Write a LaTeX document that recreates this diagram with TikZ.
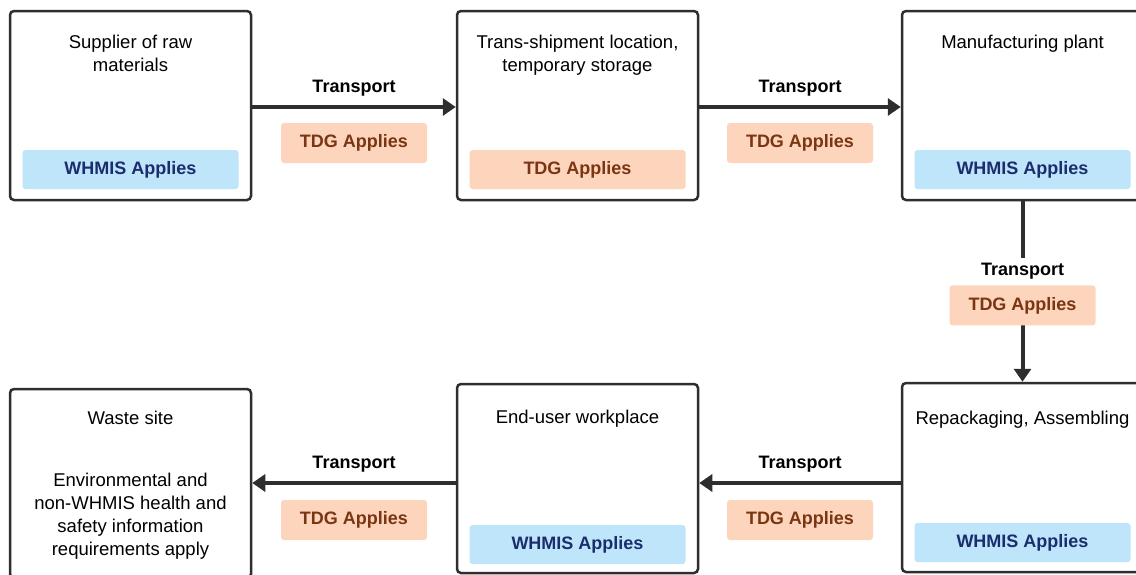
\documentclass[tikz,border=0pt]{standalone}
\usepackage{fontspec}
\setmainfont{Liberation Sans}
\usetikzlibrary{arrows.meta,positioning}
\definecolor{LineColor}{HTML}{2E2E2E}
\definecolor{WhmisColor}{HTML}{BEE5FA}
\definecolor{WhmisTextColor}{HTML}{1B2D6E}
\definecolor{TdgColor}{HTML}{FDD5BC}
\definecolor{TdgTextColor}{HTML}{7A3512}

\begin{document}
\begin{tikzpicture}[
    x=1pt, y=-1pt,
    font=\fontsize{18.5}{23}\selectfont,
    site/.style={draw=LineColor, line width=2.5pt, rounded corners=4pt, fill=white,
      minimum width=241pt, minimum height=189pt, inner sep=0pt},
    site title/.style={align=center, inner sep=0pt},
    whmis/.style={fill=WhmisColor, text=WhmisTextColor, rounded corners=3pt,
      font=\fontsize{18}{22}\selectfont\bfseries,
      minimum width=216pt, minimum height=39pt, inner sep=0pt},
    tdg/.style={fill=TdgColor, text=TdgTextColor, rounded corners=3pt,
      font=\fontsize{18}{22}\selectfont\bfseries,
      minimum width=146pt, minimum height=40pt, inner sep=0pt},
    transport/.style={fill=white, inner sep=2pt, font=\fontsize{18}{22}\selectfont\bfseries},
    flow/.style={draw=LineColor, line width=4pt, -{Triangle[length=13pt, width=17pt]}},
  ]
  \useasboundingbox (0,0) rectangle (1136,574);
  \clip (0,0) rectangle (1136,574);
  % ┌───────┐
  % │ Sites │
  % └───────┘
  \node[site] (supplier) at (130.5,105.5) {};
  \node[site] (transship) at (577.5,105.5) {};
  \node[site] (plant) at (1022.5,105.5) {};
  \node[site] (repack) at (1022.5,477.5) {};
  \node[site] (enduser) at (577.5,478.5) {};
  \node[site] (waste) at (130.5,483.5) {};

  \node[site title, below=25pt of supplier.north] (suppliertitle) {Supplier of raw\\materials};
  \node[site title, below=25pt of transship.north] (transshiptitle) {Trans-shipment location,\\temporary storage};
  \node[site title, below=25pt of plant.north] (planttitle) {Manufacturing plant};
  \node[site title, below=29pt of repack.north] (repacktitle) {Repackaging, Assembling};
  \node[site title, below=27pt of enduser.north] (endusertitle) {End-user workplace};
  \node[site title, below=23pt of waste.north] (wastetitle) {Waste site};
  \node[site title, below=85pt of waste.north] (wastenote) {Environmental and\\non-WHMIS health and\\safety information\\requirements apply};

  \node[whmis, above=12pt of supplier.south] (supplierwhmis) {WHMIS Applies};
  \node[tdg, above=12pt of transship.south, minimum width=216pt, minimum height=39pt] (transshiptdg) {TDG Applies};
  \node[whmis, above=12pt of plant.south] (plantwhmis) {WHMIS Applies};
  \node[whmis, above=11pt of repack.south] (repackwhmis) {WHMIS Applies};
  \node[whmis, above=10pt of enduser.south] (enduserwhmis) {WHMIS Applies};

  % ┌───────────┐
  % │ Transport │
  % └───────────┘
  \coordinate (toprow) at (0,107);
  \coordinate (lowrow) at (0,483);
  \draw[flow] (supplier.east |- toprow) -- (transship.west |- toprow)
    node[midway, transport, above=7pt] (transportA) {Transport}
    node[midway, tdg, below=14pt] (tdgA) {TDG Applies};
  \draw[flow] (transship.east |- toprow) -- (plant.west |- toprow)
    node[midway, transport, above=7pt] (transportB) {Transport}
    node[midway, tdg, below=14pt] (tdgB) {TDG Applies};
  \draw[flow] (plant.south) -- (repack.north)
    node[pos=0.39, transport, inner ysep=6pt] (transportC) {Transport}
    node[pos=0.577, tdg] (tdgC) {TDG Applies};
  \draw[flow] (repack.west |- lowrow) -- (enduser.east |- lowrow)
    node[midway, transport, above=7pt] (transportD) {Transport}
    node[midway, tdg, below=15pt] (tdgD) {TDG Applies};
  \draw[flow] (enduser.west |- lowrow) -- (waste.east |- lowrow)
    node[midway, transport, above=7pt] (transportE) {Transport}
    node[midway, tdg, below=15pt] (tdgE) {TDG Applies};
\end{tikzpicture}
\end{document}
